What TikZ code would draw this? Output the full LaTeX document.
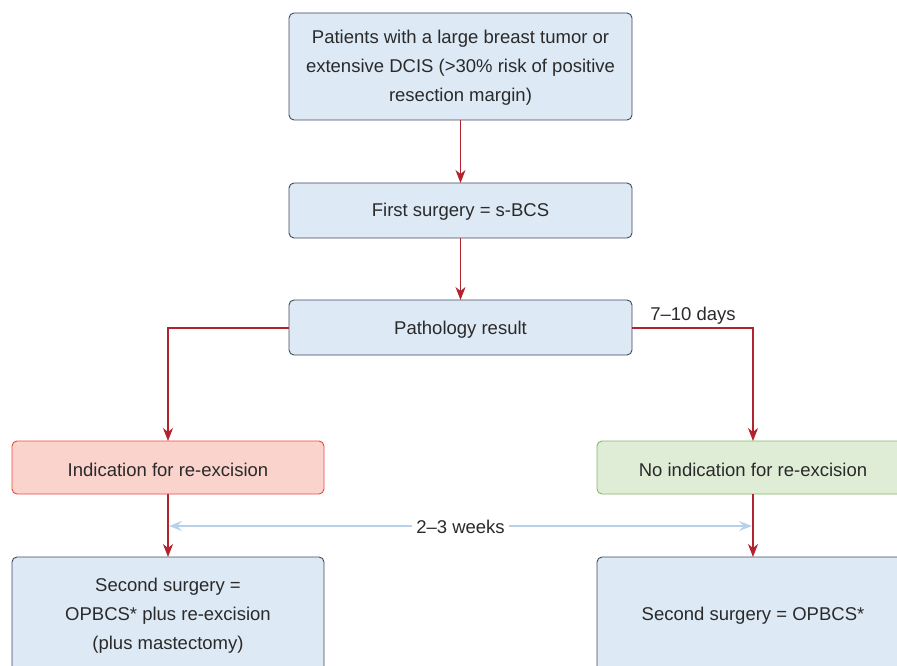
\documentclass[tikz,border=0pt]{standalone}
\usepackage{fontspec}
\setmainfont{Liberation Sans}
\usetikzlibrary{arrows.meta}
\definecolor{bluefill}{HTML}{DDE9F5}
\definecolor{blueline}{HTML}{3E4A5E}
\definecolor{redfill}{HTML}{F9D3CC}
\definecolor{redline}{HTML}{E84A45}
\definecolor{greenfill}{HTML}{DFEDD6}
\definecolor{greenline}{HTML}{84B865}
\definecolor{arrowred}{HTML}{B3232E}
\definecolor{lightblue}{HTML}{B7D1EA}
\definecolor{textgray}{HTML}{2A2A2A}
\begin{document}
\begin{tikzpicture}[x=1pt,y=-1pt,
  box/.style={draw=blueline,fill=bluefill,rounded corners=5pt,line width=0.9pt},
  redbox/.style={draw=redline,fill=redfill,rounded corners=5pt,line width=0.9pt},
  greenbox/.style={draw=greenline,fill=greenfill,rounded corners=5pt,line width=0.9pt},
  txt/.style={text=textgray,font=\fontsize{18.5}{29}\selectfont,align=center},
  flow/.style={draw=arrowred,line width=1.1pt,-{Stealth[length=13pt,width=10pt,inset=4pt]}},
  span/.style={draw=lightblue,line width=1.1pt,{Stealth[length=13pt,width=10pt,inset=5pt]}-{Stealth[length=13pt,width=10pt,inset=5pt]}}
  ]
\useasboundingbox (0,0) rectangle (897,666);
\clip (0,0) rectangle (897,666);
\draw[box] (289,13) rectangle (632,120);
\node[txt] (b1) at (460.5,68) {Patients with a large breast tumor or\\extensive DCIS (>30\% risk of positive\\resection margin)};
\coordinate (b1s) at (460.5,120);
\draw[box] (289,183) rectangle (632,238);
\node[txt] (b2) at (460.5,212) {First surgery = s-BCS};
\coordinate (b2n) at (460.5,183);
\coordinate (b2s) at (460.5,238);
\draw[box] (289,300) rectangle (632,355);
\node[txt] (b3) at (460.5,329.5) {Pathology result};
\coordinate (b3n) at (460.5,300);
\coordinate (b3w) at (289,328);
\coordinate (b3e) at (632,328);
\draw[redbox] (12,441) rectangle (324,494);
\node[txt] (l1) at (168,469.5) {Indication for re-excision};
\coordinate (l1n) at (168,441);
\coordinate (l1s) at (168,494);
\draw[greenbox] (597,441) rectangle (910,494);
\node[txt] (r1) at (753,469.5) {No indication for re-excision};
\coordinate (r1n) at (753,441);
\coordinate (r1s) at (753,494);
\draw[box] (12,557) rectangle (324,690);
\node[txt] (l2) at (168,616) {Second surgery =\\OPBCS* plus re-excision\\(plus mastectomy)};
\coordinate (l2n) at (168,557);
\draw[box] (597,557) rectangle (910,690);
\node[txt] (r2) at (753,616) {Second surgery = OPBCS*};
\coordinate (r2n) at (753,557);
\draw[flow] (b1s) -- (b2n);
\draw[flow] (b2s) -- (b3n);
\draw[flow] (b3w) -| (l1n);
\draw[flow] (b3e) -| (r1n);
\node[txt,anchor=south] (days) at (693,328) {7–10 days};
\draw[flow] (l1s) -- (l2n);
\draw[flow] (r1s) -- (r2n);
\coordinate (wl) at (169,526);
\coordinate (wr) at (752,526);
\draw[span] (wl) -- (wr);
\node[txt,fill=white,inner sep=4pt] (weeks) at (460.5,527) {2–3 weeks};
\end{tikzpicture}
\end{document}
